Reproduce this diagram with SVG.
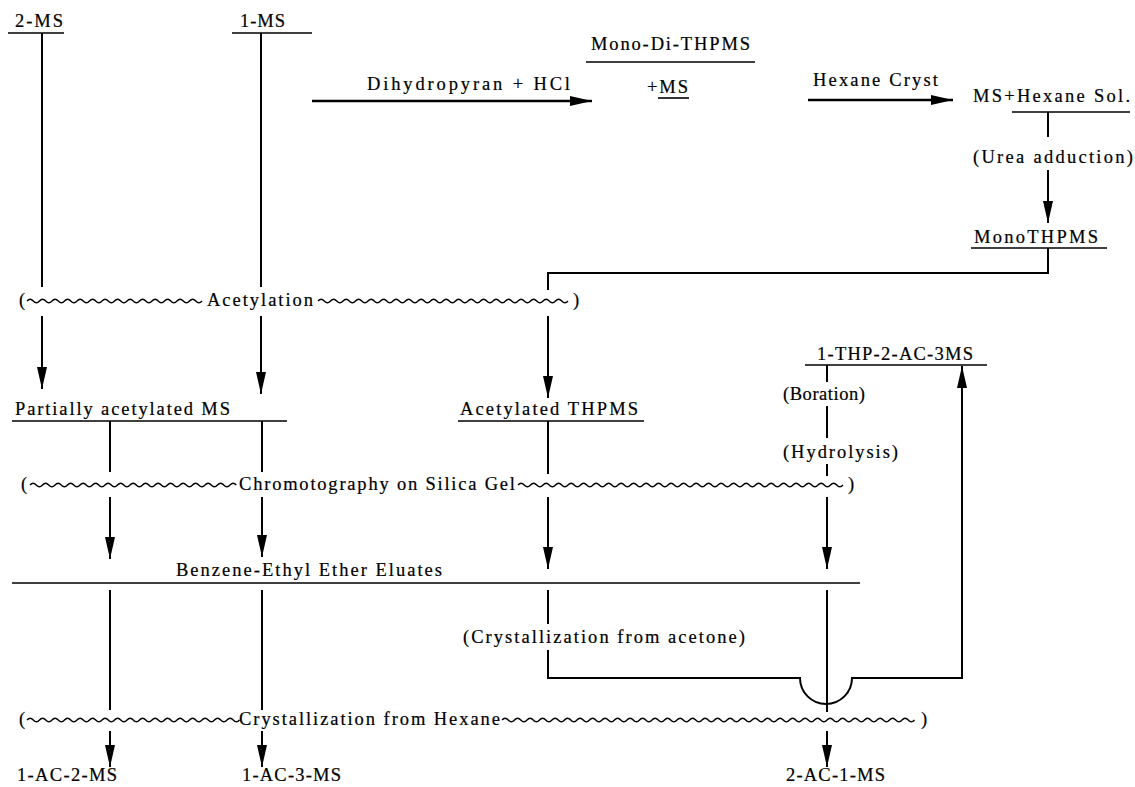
<svg xmlns="http://www.w3.org/2000/svg" width="1135" height="787" viewBox="0 0 1135 787">
<style>
.t{font-family:"Liberation Serif","Times New Roman",serif;font-size:18.5px;fill:#000;stroke:#000;stroke-width:0.2}
.ln{stroke:#000;stroke-width:2;fill:none}
.ul{stroke:#000;stroke-width:1.6;fill:none}
.wv{stroke:#000;stroke-width:1.4;fill:none}
.ar{stroke:#000;stroke-width:2;fill:none;marker-end:url(#ah)}
</style>
<defs>
<marker id="ah" markerUnits="userSpaceOnUse" markerWidth="22" markerHeight="10" refX="22" refY="5" orient="auto">
<path d="M0,0 L22,5 L0,10 z" fill="#000"/>
</marker>
</defs>
<rect width="1135" height="787" fill="#fff"/>

<g id="n-2ms"><text class="t" x="15" y="27" textLength="48" lengthAdjust="spacing">2-MS</text><line class="ul" x1="8" y1="33" x2="64" y2="33"/></g>
<g id="n-1ms"><text class="t" x="240" y="27" textLength="45" lengthAdjust="spacing">1-MS</text><line class="ul" x1="232" y1="33" x2="312" y2="33"/></g>
<g id="n-monodi"><text class="t" x="591" y="50" textLength="159" lengthAdjust="spacing">Mono-Di-THPMS</text><line class="ul" x1="586" y1="62" x2="755" y2="62"/>
<text class="t" x="647" y="93" textLength="41" lengthAdjust="spacing">+MS</text><line class="ul" x1="658" y1="98" x2="689" y2="98"/></g>
<g id="n-mshex"><text class="t" x="973" y="102" textLength="157" lengthAdjust="spacing">MS+Hexane Sol.</text><line class="ul" x1="1012" y1="112" x2="1130" y2="112"/></g>
<g id="n-urea"><text class="t" x="973" y="163" textLength="160" lengthAdjust="spacing">(Urea adduction)</text></g>
<g id="n-mono"><text class="t" x="974" y="243" textLength="124" lengthAdjust="spacing">MonoTHPMS</text><line class="ul" x1="971" y1="248" x2="1107" y2="248"/></g>
<g id="n-acetylation"><text class="t" x="19" y="306">(</text><text class="t" x="207" y="306" textLength="106" lengthAdjust="spacing">Acetylation</text><text class="t" x="573" y="306">)</text></g>
<g id="n-partial"><text class="t" x="15" y="415" textLength="215" lengthAdjust="spacing">Partially acetylated MS</text><line class="ul" x1="12" y1="421" x2="287" y2="421"/></g>
<g id="n-acthp"><text class="t" x="460" y="415" textLength="178" lengthAdjust="spacing">Acetylated THPMS</text><line class="ul" x1="458" y1="421" x2="644" y2="421"/></g>
<g id="n-1thp"><text class="t" x="817" y="360" textLength="156" lengthAdjust="spacing">1-THP-2-AC-3MS</text><line class="ul" x1="805" y1="365" x2="987" y2="365"/></g>
<g id="n-boration"><text class="t" x="783" y="400" textLength="82" lengthAdjust="spacing">(Boration)</text></g>
<g id="n-hydrolysis"><text class="t" x="783" y="458" textLength="115" lengthAdjust="spacing">(Hydrolysis)</text></g>
<g id="n-chromo"><text class="t" x="21" y="490">(</text><text class="t" x="239" y="490" textLength="276" lengthAdjust="spacing">Chromotography on Silica Gel</text><text class="t" x="848" y="490">)</text></g>
<g id="n-benzene"><text class="t" x="176" y="576" textLength="266" lengthAdjust="spacing">Benzene-Ethyl Ether Eluates</text><line class="ul" x1="12" y1="583" x2="860" y2="583"/></g>
<g id="n-acetone"><text class="t" x="463" y="643" textLength="282" lengthAdjust="spacing">(Crystallization from acetone)</text></g>
<g id="n-hexane"><text class="t" x="19" y="725">(</text><text class="t" x="239" y="725" textLength="261" lengthAdjust="spacing">Crystallization from Hexane</text><text class="t" x="921" y="725">)</text></g>
<g id="n-1ac2"><text class="t" x="17" y="781" textLength="100" lengthAdjust="spacing">1-AC-2-MS</text></g>
<g id="n-1ac3"><text class="t" x="242" y="781" textLength="99" lengthAdjust="spacing">1-AC-3-MS</text></g>
<g id="n-2ac1"><text class="t" x="786" y="781" textLength="99" lengthAdjust="spacing">2-AC-1-MS</text></g>
<g id="n-labels"><text class="t" x="367" y="90" textLength="203" lengthAdjust="spacing">Dihydropyran  +  HCl</text><text class="t" x="813" y="86" textLength="125" lengthAdjust="spacing">Hexane Cryst</text></g>

<g id="connectors">
<path class="wv" d="M27,301 q3.125,-3.5 6.25,0 t6.25,0 t6.25,0 t6.25,0 t6.25,0 t6.25,0 t6.25,0 t6.25,0 t6.25,0 t6.25,0 t6.25,0 t6.25,0 t6.25,0 t6.25,0 t6.25,0 t6.25,0 t6.25,0 t6.25,0 t6.25,0 t6.25,0 t6.25,0 t6.25,0 t6.25,0 t6.25,0 t6.25,0 t6.25,0 t6.25,0 t6.25,0"/>
<path class="wv" d="M318,301 q3.125,-3.5 6.25,0 t6.25,0 t6.25,0 t6.25,0 t6.25,0 t6.25,0 t6.25,0 t6.25,0 t6.25,0 t6.25,0 t6.25,0 t6.25,0 t6.25,0 t6.25,0 t6.25,0 t6.25,0 t6.25,0 t6.25,0 t6.25,0 t6.25,0 t6.25,0 t6.25,0 t6.25,0 t6.25,0 t6.25,0 t6.25,0 t6.25,0 t6.25,0 t6.25,0 t6.25,0 t6.25,0 t6.25,0 t6.25,0 t6.25,0 t6.25,0 t6.25,0 t6.25,0 t6.25,0 t6.25,0 t6.25,0"/>
<path class="wv" d="M30,485 q3.125,-3.5 6.25,0 t6.25,0 t6.25,0 t6.25,0 t6.25,0 t6.25,0 t6.25,0 t6.25,0 t6.25,0 t6.25,0 t6.25,0 t6.25,0 t6.25,0 t6.25,0 t6.25,0 t6.25,0 t6.25,0 t6.25,0 t6.25,0 t6.25,0 t6.25,0 t6.25,0 t6.25,0 t6.25,0 t6.25,0 t6.25,0 t6.25,0 t6.25,0 t6.25,0 t6.25,0 t6.25,0 t6.25,0 t6.25,0"/>
<path class="wv" d="M518,485 q3.125,-3.5 6.25,0 t6.25,0 t6.25,0 t6.25,0 t6.25,0 t6.25,0 t6.25,0 t6.25,0 t6.25,0 t6.25,0 t6.25,0 t6.25,0 t6.25,0 t6.25,0 t6.25,0 t6.25,0 t6.25,0 t6.25,0 t6.25,0 t6.25,0 t6.25,0 t6.25,0 t6.25,0 t6.25,0 t6.25,0 t6.25,0 t6.25,0 t6.25,0 t6.25,0 t6.25,0 t6.25,0 t6.25,0 t6.25,0 t6.25,0 t6.25,0 t6.25,0 t6.25,0 t6.25,0 t6.25,0 t6.25,0 t6.25,0 t6.25,0 t6.25,0 t6.25,0 t6.25,0 t6.25,0 t6.25,0 t6.25,0 t6.25,0 t6.25,0 t6.25,0 t6.25,0"/>
<path class="wv" d="M27,720 q3.125,-3.5 6.25,0 t6.25,0 t6.25,0 t6.25,0 t6.25,0 t6.25,0 t6.25,0 t6.25,0 t6.25,0 t6.25,0 t6.25,0 t6.25,0 t6.25,0 t6.25,0 t6.25,0 t6.25,0 t6.25,0 t6.25,0 t6.25,0 t6.25,0 t6.25,0 t6.25,0 t6.25,0 t6.25,0 t6.25,0 t6.25,0 t6.25,0 t6.25,0 t6.25,0 t6.25,0 t6.25,0 t6.25,0 t6.25,0 t6.25,0"/>
<path class="wv" d="M502,720 q3.125,-3.5 6.25,0 t6.25,0 t6.25,0 t6.25,0 t6.25,0 t6.25,0 t6.25,0 t6.25,0 t6.25,0 t6.25,0 t6.25,0 t6.25,0 t6.25,0 t6.25,0 t6.25,0 t6.25,0 t6.25,0 t6.25,0 t6.25,0 t6.25,0 t6.25,0 t6.25,0 t6.25,0 t6.25,0 t6.25,0 t6.25,0 t6.25,0 t6.25,0 t6.25,0 t6.25,0 t6.25,0 t6.25,0 t6.25,0 t6.25,0 t6.25,0 t6.25,0 t6.25,0 t6.25,0 t6.25,0 t6.25,0 t6.25,0 t6.25,0 t6.25,0 t6.25,0 t6.25,0 t6.25,0 t6.25,0 t6.25,0 t6.25,0 t6.25,0 t6.25,0 t6.25,0 t6.25,0 t6.25,0 t6.25,0 t6.25,0 t6.25,0 t6.25,0 t6.25,0 t6.25,0 t6.25,0 t6.25,0 t6.25,0 t6.25,0 t6.25,0 t6.25,0"/>

<line class="ln" x1="42" y1="33" x2="42" y2="287"/>
<line class="ln" x1="261" y1="33" x2="261" y2="287"/>
<line class="ar" x1="42" y1="316" x2="42" y2="389"/>
<line class="ar" x1="261" y1="316" x2="261" y2="394"/>
<line class="ar" x1="312" y1="101" x2="592" y2="101" style="stroke-width:2.4"/>
<line class="ar" x1="808" y1="100" x2="953" y2="100" style="stroke-width:2.4"/>
<line class="ln" x1="1048" y1="112" x2="1048" y2="137"/>
<line class="ar" x1="1048" y1="170" x2="1048" y2="223"/>
<path class="ln" d="M1048,248 V273 H548 V290"/>
<line class="ar" x1="548" y1="316" x2="548" y2="398"/>

<line class="ln" x1="110" y1="421" x2="110" y2="472"/>
<line class="ln" x1="262" y1="421" x2="262" y2="472"/>
<line class="ln" x1="548" y1="421" x2="548" y2="474"/>
<line class="ln" x1="827" y1="365" x2="827" y2="382"/>
<line class="ln" x1="827" y1="406" x2="827" y2="438"/>
<line class="ln" x1="827" y1="464" x2="827" y2="476"/>
<line class="ar" x1="110" y1="497" x2="110" y2="559"/>
<line class="ar" x1="262" y1="497" x2="262" y2="557"/>
<line class="ar" x1="548" y1="497" x2="548" y2="569"/>
<line class="ar" x1="827" y1="497" x2="827" y2="569"/>

<line class="ln" x1="110" y1="590" x2="110" y2="710"/>
<line class="ln" x1="262" y1="590" x2="262" y2="710"/>
<line class="ln" x1="548" y1="590" x2="548" y2="624"/>
<line class="ln" x1="827" y1="590" x2="827" y2="712"/>
<path class="ln" d="M548,650 V678 H800 A26,26 0 0 0 852,678 H962 V400"/>
<line class="ar" x1="962" y1="420" x2="962" y2="366"/>
<line class="ar" x1="110" y1="731" x2="110" y2="767"/>
<line class="ar" x1="262" y1="731" x2="262" y2="767"/>
<line class="ar" x1="827" y1="731" x2="827" y2="767"/>
</g>
</svg>
